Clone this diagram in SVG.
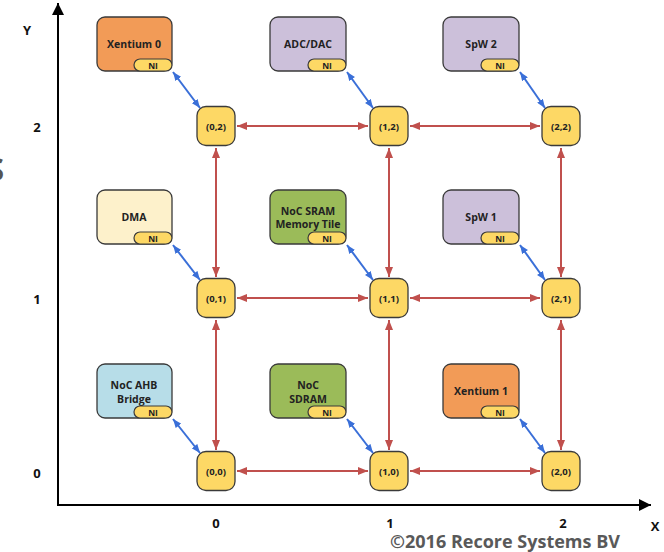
<svg xmlns="http://www.w3.org/2000/svg" width="664" height="552" viewBox="0 0 664 552">
<defs>
<style>
.tile{stroke:#3a3a3a;stroke-width:1.3}
.router{fill:#FDD865;stroke:#3a3a3a;stroke-width:1.3}
.ni{fill:#FDD865;stroke:#3a3a3a;stroke-width:1.2}
.t{font-family:"Open Sans","Liberation Sans",sans-serif;font-weight:bold;fill:#222;text-anchor:middle}
.tl{font-size:10.5px}
.rl{font-size:9.5px}
.nl{font-size:8.5px}
.ax{font-family:"Open Sans","Liberation Sans",sans-serif;font-weight:bold;font-size:13px;fill:#111;text-anchor:middle}
.red{stroke:#C0504D;stroke-width:2;fill:none;marker-start:url(#mr);marker-end:url(#mr)}
.blue{stroke:#3A6FD8;stroke-width:2;fill:none;marker-start:url(#mb);marker-end:url(#mb)}
</style>
<marker id="mr" viewBox="0 0 10 8" refX="10" refY="4" markerWidth="10" markerHeight="8" markerUnits="userSpaceOnUse" orient="auto-start-reverse"><path d="M0,0 L10,4 L0,8 z" fill="#C0504D"/></marker>
<marker id="mb" viewBox="0 0 10 8" refX="10" refY="4" markerWidth="9" markerHeight="7" markerUnits="userSpaceOnUse" orient="auto-start-reverse"><path d="M0,0 L10,4 L0,8 z" fill="#3A6FD8"/></marker>
<marker id="ma" viewBox="0 0 10 10" refX="10" refY="5" markerWidth="15" markerHeight="12" markerUnits="userSpaceOnUse" orient="auto"><path d="M0,0 L10,5 L0,10 z" fill="#000"/></marker>
</defs>
<rect width="664" height="552" fill="#fff"/>
<text x="-14" y="181" font-family="Open Sans, Liberation Sans, sans-serif" font-weight="bold" font-size="33" fill="#555">S</text>
<g id="axes">
<line x1="58" y1="505" x2="58" y2="3" stroke="#000" stroke-width="2" marker-end="url(#ma)"/>
<line x1="57" y1="505" x2="651" y2="505" stroke="#000" stroke-width="2" marker-end="url(#ma)"/>
<text class="ax" x="27" y="35">Y</text>
<text class="ax" x="37" y="132">2</text>
<text class="ax" x="37" y="304">1</text>
<text class="ax" x="37" y="478">0</text>
<text class="ax" x="216" y="528">0</text>
<text class="ax" x="390" y="528">1</text>
<text class="ax" x="563" y="528">2</text>
<text class="ax" x="655" y="531">X</text>
<text x="505" y="548" font-family="Open Sans, Liberation Sans, sans-serif" font-weight="bold" font-size="18" fill="#595959" text-anchor="middle">©2016 Recore Systems BV</text>
</g>
<g id="connectors">
<line class="red" x1="237" y1="126" x2="368" y2="126"/>
<line class="red" x1="410" y1="126" x2="540" y2="126"/>
<line class="red" x1="237" y1="298" x2="368" y2="298"/>
<line class="red" x1="410" y1="298" x2="540" y2="298"/>
<line class="red" x1="237" y1="471" x2="368" y2="471"/>
<line class="red" x1="410" y1="471" x2="540" y2="471"/>
<line class="red" x1="216" y1="148" x2="216" y2="277"/>
<line class="red" x1="389" y1="148" x2="389" y2="277"/>
<line class="red" x1="561" y1="148" x2="561" y2="277"/>
<line class="red" x1="216" y1="320" x2="216" y2="450"/>
<line class="red" x1="389" y1="320" x2="389" y2="450"/>
<line class="red" x1="561" y1="320" x2="561" y2="450"/>
<line class="blue" x1="173" y1="72" x2="200" y2="108"/>
<line class="blue" x1="347" y1="72" x2="373" y2="108"/>
<line class="blue" x1="520" y1="72" x2="545" y2="108"/>
<line class="blue" x1="173" y1="245" x2="200" y2="280"/>
<line class="blue" x1="347" y1="245" x2="373" y2="280"/>
<line class="blue" x1="520" y1="245" x2="545" y2="280"/>
<line class="blue" x1="173" y1="419" x2="200" y2="453"/>
<line class="blue" x1="347" y1="419" x2="373" y2="453"/>
<line class="blue" x1="520" y1="419" x2="545" y2="453"/>
</g>
<g id="tile-xentium0"><rect class="tile" x="97" y="17" width="75" height="54" rx="8" fill="#F29B57"/><text class="t tl" x="134" y="48">Xentium 0</text><rect class="ni" x="134" y="59" width="38" height="12" rx="6"/><text class="t nl" x="153" y="68.5">NI</text></g>
<g id="tile-adcdac"><rect class="tile" x="270" y="17" width="76" height="54" rx="8" fill="#CCC0DA"/><text class="t tl" x="308" y="48">ADC/DAC</text><rect class="ni" x="308" y="59" width="38" height="12" rx="6"/><text class="t nl" x="327" y="68.5">NI</text></g>
<g id="tile-spw2"><rect class="tile" x="443" y="17" width="76" height="54" rx="8" fill="#CCC0DA"/><text class="t tl" x="481" y="48">SpW 2</text><rect class="ni" x="481" y="59" width="38" height="12" rx="6"/><text class="t nl" x="500" y="68.5">NI</text></g>
<g id="tile-dma"><rect class="tile" x="97" y="190" width="75" height="54" rx="8" fill="#FDF1CB"/><text class="t tl" x="134" y="221">DMA</text><rect class="ni" x="134" y="232" width="38" height="12" rx="6"/><text class="t nl" x="153" y="241.5">NI</text></g>
<g id="tile-sram"><rect class="tile" x="270" y="190" width="76" height="54" rx="8" fill="#9BBB59"/><text class="t tl" x="308" y="215">NoC SRAM</text><text class="t tl" x="308" y="228">Memory Tile</text><rect class="ni" x="308" y="232" width="38" height="12" rx="6"/><text class="t nl" x="327" y="241.5">NI</text></g>
<g id="tile-spw1"><rect class="tile" x="443" y="190" width="76" height="54" rx="8" fill="#CCC0DA"/><text class="t tl" x="481" y="221">SpW 1</text><rect class="ni" x="481" y="232" width="38" height="12" rx="6"/><text class="t nl" x="500" y="241.5">NI</text></g>
<g id="tile-ahb"><rect class="tile" x="97" y="364" width="75" height="54" rx="8" fill="#B7DDE8"/><text class="t tl" x="134" y="389">NoC AHB</text><text class="t tl" x="134" y="403">Bridge</text><rect class="ni" x="134" y="406" width="38" height="12" rx="6"/><text class="t nl" x="153" y="415.5">NI</text></g>
<g id="tile-sdram"><rect class="tile" x="270" y="364" width="76" height="54" rx="8" fill="#9BBB59"/><text class="t tl" x="308" y="389">NoC</text><text class="t tl" x="308" y="403">SDRAM</text><rect class="ni" x="308" y="406" width="38" height="12" rx="6"/><text class="t nl" x="327" y="415.5">NI</text></g>
<g id="tile-xentium1"><rect class="tile" x="443" y="364" width="76" height="54" rx="8" fill="#F29B57"/><text class="t tl" x="481" y="395">Xentium 1</text><rect class="ni" x="481" y="406" width="38" height="12" rx="6"/><text class="t nl" x="500" y="415.5">NI</text></g>
<g id="r02"><rect class="router" x="197" y="106.5" width="38" height="39" rx="9"/><text class="t rl" x="216" y="129.5">(0,2)</text></g>
<g id="r12"><rect class="router" x="370" y="106.5" width="38" height="39" rx="9"/><text class="t rl" x="389" y="129.5">(1,2)</text></g>
<g id="r22"><rect class="router" x="542" y="106.5" width="38" height="39" rx="9"/><text class="t rl" x="561" y="129.5">(2,2)</text></g>
<g id="r01"><rect class="router" x="197" y="278.5" width="38" height="39" rx="9"/><text class="t rl" x="216" y="301.5">(0,1)</text></g>
<g id="r11"><rect class="router" x="370" y="278.5" width="38" height="39" rx="9"/><text class="t rl" x="389" y="301.5">(1,1)</text></g>
<g id="r21"><rect class="router" x="542" y="278.5" width="38" height="39" rx="9"/><text class="t rl" x="561" y="301.5">(2,1)</text></g>
<g id="r00"><rect class="router" x="197" y="451.5" width="38" height="39" rx="9"/><text class="t rl" x="216" y="474.5">(0,0)</text></g>
<g id="r10"><rect class="router" x="370" y="451.5" width="38" height="39" rx="9"/><text class="t rl" x="389" y="474.5">(1,0)</text></g>
<g id="r20"><rect class="router" x="542" y="451.5" width="38" height="39" rx="9"/><text class="t rl" x="561" y="474.5">(2,0)</text></g>
</svg>
